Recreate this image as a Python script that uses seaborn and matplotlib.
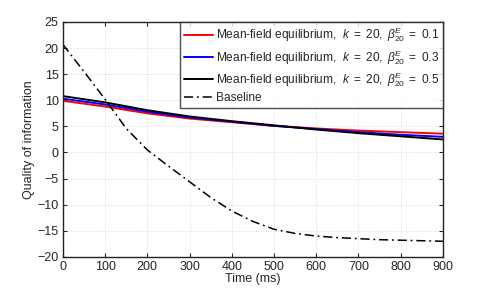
import matplotlib
matplotlib.use("Agg")
import matplotlib.pyplot as plt
import seaborn as sns
import pandas as pd

# data
time_ms = [0, 100, 200, 300, 400, 500, 600, 700, 800, 900]
beta_01 = [9.9, 8.8, 7.5, 6.5, 5.8, 5.1, 4.6, 4.2, 3.9, 3.6]
beta_03 = [10.3, 9.2, 7.8, 6.7, 5.9, 5.1, 4.5, 3.9, 3.4, 3.0]
beta_05 = [10.8, 9.6, 8.1, 6.9, 6.0, 5.2, 4.4, 3.7, 3.1, 2.5]

base_time = [0, 50, 100, 150, 200, 250, 300, 350, 400, 450, 500, 550, 600,
             650, 700, 750, 800, 850, 900]
baseline = [20.7, 15.5, 10.2, 4.6, 0.5, -2.6, -5.6, -8.6, -11.2, -13.2, -14.7,
            -15.5, -16.0, -16.3, -16.5, -16.7, -16.8, -16.9, -17.0]

labels = [r"Mean-field equilibrium,  $\mathit{k\ =\ 20,\ \beta^{E}_{20}\ =\ 0.1}$",
          r"Mean-field equilibrium,  $\mathit{k\ =\ 20,\ \beta^{E}_{20}\ =\ 0.3}$",
          r"Mean-field equilibrium,  $\mathit{k\ =\ 20,\ \beta^{E}_{20}\ =\ 0.5}$",
          "Baseline"]
colors = ["#ff0000", "#0000ff", "#000000"]

sns.set_style("white")
plt.rcParams['font.family'] = ['Liberation Sans', 'DejaVu Sans']
plt.rcParams['mathtext.fontset'] = 'custom'
plt.rcParams['mathtext.rm'] = 'Liberation Sans'
plt.rcParams['mathtext.it'] = 'Liberation Sans:italic'

fig = plt.figure(figsize=(4.91, 2.89), dpi=100)
ax = fig.add_axes([0.128, 0.111, 0.774, 0.813])

for vals, lab, col in zip([beta_01, beta_03, beta_05], labels[:3], colors):
    df = pd.DataFrame({"t": time_ms, "q": vals})
    sns.lineplot(data=df, x="t", y="q", color=col, lw=1.4, label=lab, ax=ax)

df_b = pd.DataFrame({"t": base_time, "q": baseline})
sns.lineplot(data=df_b, x="t", y="q", color="black", lw=1.1,
             linestyle=(0, (6, 2.5, 1.2, 2.5)), label=labels[3], ax=ax)

ax.set_xlim(0, 900)
ax.set_ylim(-20, 25)
ax.set_xticks(range(0, 901, 100))
ax.set_yticks(range(-20, 26, 5))
ax.set_xlabel("Time (ms)", fontsize=9, labelpad=0)
ax.set_ylabel("Quality of information", fontsize=9, labelpad=2)
ax.tick_params(direction="in", bottom=True, left=True, top=True, right=True,
               labelsize=9, length=3, width=0.8, pad=3)
ax.grid(True, linestyle=(0, (1, 2)), color="#d0d0d0", lw=0.6)
for s in ax.spines.values():
    s.set_color("#222222")
    s.set_linewidth(1.0)

leg = ax.legend(loc="upper right", fontsize=8.6, frameon=True, fancybox=False,
                borderaxespad=0, handlelength=2.4, labelspacing=0.3,
                handletextpad=0.3, borderpad=0.3)
leg.get_frame().set_edgecolor("#222222")
leg.get_frame().set_linewidth(1.0)

fig.savefig("out.png", dpi=100)
